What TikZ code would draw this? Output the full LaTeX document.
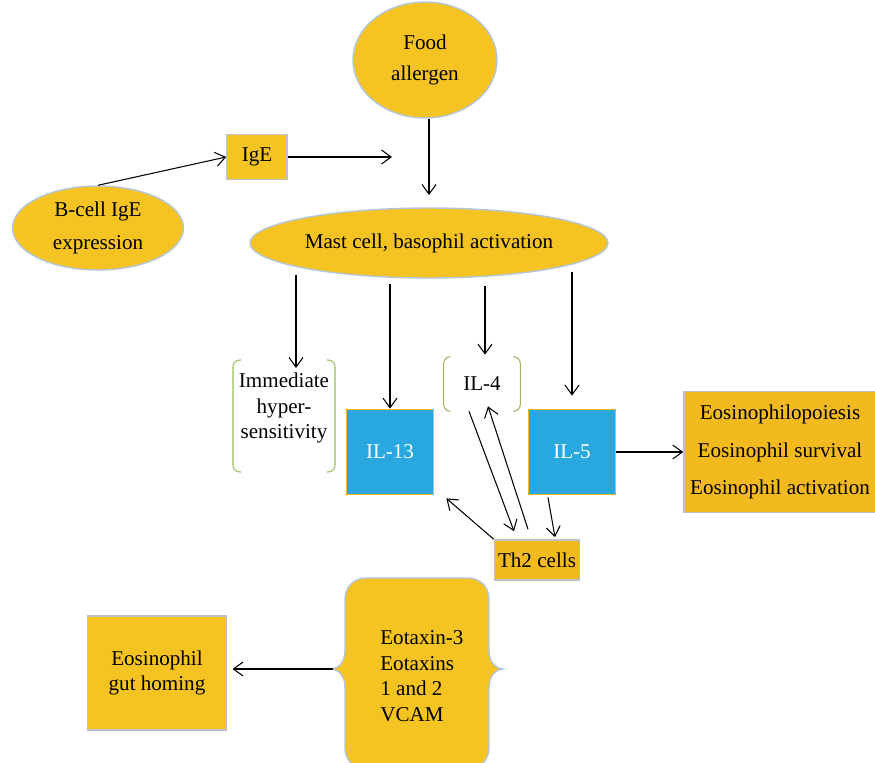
\documentclass[tikz,border=0pt]{standalone}
\usepackage{fontspec}
\setmainfont{Liberation Serif}
\usepackage{tikz}
\usetikzlibrary{calc}
\usetikzlibrary{arrows.meta}
\usetikzlibrary{shapes.geometric}
\usepackage{color}
\definecolor{sunflower}{RGB}{245, 196, 34}
\definecolor{orangebox}{RGB}{243, 186, 31}
\definecolor{peterriver}{RGB}{41, 168, 223}
\definecolor{cloudgray}{RGB}{190, 194, 200}
\definecolor{ellipseedge}{RGB}{180, 198, 220}
\definecolor{leafgreen}{RGB}{155, 187, 89}

\tikzset{
  ellnode/.style={ellipse, fill=sunflower, draw=ellipseedge, line width=0.8pt, inner sep=0pt, align=center},
  ybox/.style={rectangle, fill=sunflower, draw=cloudgray, line width=0.9pt, align=center},
  ilbox/.style={rectangle, fill=peterriver, draw=orangebox, line width=1pt, text=white, minimum width=1.74cm, minimum height=1.7cm},
  brnode/.style={rectangle, align=center},
  bracket/.style={draw=leafgreen, line width=0.6pt, rounded corners=4pt},
  arr/.style={-{Straight Barb[length=5.5pt,width=8pt]}, line width=0.6pt},
}

\begin{document}
\begin{tikzpicture}[x=0.02cm, y=-0.02cm, font=\fontsize{12}{14.5}\selectfont]
        \useasboundingbox (0,0) rectangle (875,763);
        % top part
        \node[ellnode, minimum width=2.88cm, minimum height=2.32cm] (food)  at (425, 60)  {Food\\[3pt]allergen};
        \node[ybox,    minimum width=1.2cm,  minimum height=0.9cm]  (ige)   at (257,157)  {IgE};
        \node[ellnode, minimum width=3.42cm, minimum height=1.68cm] (bcell) at ( 98,228)  {B-cell IgE\\[4pt]expression};
        \node[ellnode, minimum width=7.16cm, minimum height=1.4cm]  (mast)  at (429,243)  {Mast cell, basophil activation};
        \coordinate (igeend) at (392,157);

        % middle row
        \node[brnode]                                             (ihs)  at (284,408) {Immediate\\hyper-\\sensitivity};
        \node[ilbox]                                              (il13) at (390,452) {IL-13};
        \node[brnode, minimum width=1.52cm, minimum height=1.08cm] (il4)  at (482,384) {IL-4};
        \node[ilbox]                                              (il5)  at (572,452) {IL-5};
        \node[ybox, fill=orangebox, minimum width=3.84cm, minimum height=2.42cm] (eos) at (780,452)
             {Eosinophilopoiesis\\[7pt]Eosinophil survival\\[7pt]Eosinophil activation};
        \node[ybox, fill=orangebox, inner sep=1pt, minimum width=1.7cm, minimum height=0.8cm] (th2) at (537,560) {Th2 cells};

        % brackets
        \draw[bracket] ($(ihs.center)+(-43,-48)$) -- ($(ihs.center)+(-51,-48)$) -- ($(ihs.center)+(-51,64)$) -- ($(ihs.center)+(-43,64)$);
        \draw[bracket] ($(ihs.center)+( 43,-48)$) -- ($(ihs.center)+( 51,-48)$) -- ($(ihs.center)+( 51,64)$) -- ($(ihs.center)+( 43,64)$);
        \draw[bracket] ($(il4.north west)+(7,0)$) -- (il4.north west) -- (il4.south west) -- ($(il4.south west)+(7,0)$);
        \draw[bracket] ($(il4.north east)+(-7,0)$) -- (il4.north east) -- (il4.south east) -- ($(il4.south east)+(-7,0)$);

        % bottom part
        \filldraw[fill=sunflower, draw=ellipseedge, line width=0.8pt]
             (366,578) -- (468,578) .. controls (480,578) and (489,587) .. (489,599) -- (489,650)
             .. controls (489,662) and (495,668) .. (503,669) .. controls (495,670) and (489,676) .. (489,688)
             -- (489,748) .. controls (489,760) and (480,769) .. (468,769) -- (366,769)
             .. controls (354,769) and (345,760) .. (345,748) -- (345,688)
             .. controls (345,676) and (339,670) .. (332,669) .. controls (339,668) and (345,662) .. (345,650)
             -- (345,599) .. controls (345,587) and (354,578) .. (366,578) -- cycle;
        \coordinate (eoxl) at (333,669);
        \node[align=left, anchor=west, inner sep=0pt] (eotax) at (380,676) {Eotaxin-3\\Eotaxins\\1 and 2\\VCAM};
        \node[ybox, minimum width=2.78cm, minimum height=2.28cm] (gut) at (157,673) {Eosinophil\\gut homing};

        % connectors
        \draw[arr] (bcell.north) -- (ige.west);
        \draw[arr] (ige.east) -- (igeend);
        \draw[arr, shorten >=7pt] (food.south -| mast.north) -- (mast.north);
        \draw[arr] ($(mast.south -| ihs.north)+(12,-4)$) -- ($(ihs.center)+(12,-40)$);
        \draw[arr] ($(mast.south -| il13.north)+(0,5)$) -- (il13.north);
        \draw[arr] ($(mast.south -| il4.north)+(3,7)$) -- ($(il4.north)+(3,-2)$);
        \draw[arr] ($(mast.south -| il5.north)+(0,-7)$) -- ($(il5.north)+(0,-13)$);
        \draw[arr] (il5.east) -- (il5.east -| eos.west);
        \draw[arr] ($(il4.south)+(-13,0)$) -- ($(th2.north)+(-23,-8)$);
        \draw[arr] ($(th2.north)+(-9,-10)$) -- ($(il4.south)+(6,-5)$);
        \draw[arr] ($(il5.south)+(-24,2)$) -- ($(th2.north)+(18,-2)$);
        \draw[arr] (th2.north west) -- ($(il13.south east)+(12,3)$);
        \draw[arr, shorten >=3pt] (eoxl) -- (gut.east |- eoxl);
\end{tikzpicture}
\end{document}
